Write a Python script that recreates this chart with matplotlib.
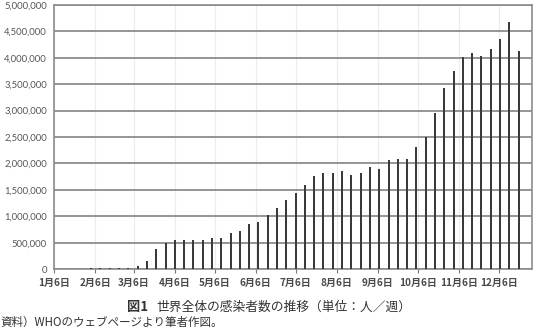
import numpy as np
import pandas as pd
import matplotlib
matplotlib.use("Agg")
import matplotlib.pyplot as plt
from matplotlib.ticker import FuncFormatter, MultipleLocator

plt.rcParams['font.family'] = ['Noto Sans CJK JP', 'DejaVu Sans']

# weekly new cases
week_start = "2020-01-13"
cases = [10000, 10000, 10000, 25000, 30000, 15000, 15000, 25000, 60000,
         150000, 385000, 500000, 558000, 545000, 558000, 558000, 583000, 596000,
         686000, 724000, 846000, 891000, 1019000,
         1154000, 1314000, 1442000, 1583000, 1763000, 1827000, 1814000, 1859000,
         1788000, 1827000, 1942000, 1904000, 2064000, 2077000, 2090000,
         2320000, 2509000, 2963000, 3424000, 3751000, 4023000, 4098000, 4035000,
         4174000, 4363000, 4672000, 4123000]
weeks = pd.date_range(week_start, periods=len(cases), freq="7D")

month_ticks = pd.date_range("2020-01-06", periods=12, freq=pd.DateOffset(months=1))
month_labels = [f"{d.month}月6日" for d in month_ticks]

caption_head = "図1"
caption = "世界全体の感染者数の推移（単位：人／週）"
source = "資料）WHOのウェブページより筆者作図。"

fig = plt.figure(figsize=(5.4, 3.29), dpi=100)
ax = fig.add_axes([0.1, 0.182, 0.885, 0.803])

ax.bar(weeks, cases, width=1.5, color="#3a3a3a", zorder=3)

ax.set_ylim(0, 5000000)
ax.set_xlim(pd.Timestamp("2020-01-06"), pd.Timestamp("2020-12-31"))
ax.yaxis.set_major_locator(MultipleLocator(500000))
ax.yaxis.set_major_formatter(FuncFormatter(lambda v, p: f"{int(v):,}"))
ax.set_xticks(month_ticks)
ax.set_xticklabels(month_labels, fontsize=7.2, fontweight="bold", color="#4a4a4a")
ax.tick_params(axis="y", labelsize=6.8, labelcolor="#555555", length=0, pad=5)
for lab in ax.get_yticklabels():
    lab.set_family("Lato")
ax.tick_params(axis="x", length=3, color="#777777", pad=3)

ax.grid(axis="y", color="#8c8c8c", linewidth=1.3, zorder=1)
ax.grid(axis="x", color="#ececec", linewidth=0.8, zorder=0)
for s in ax.spines.values():
    s.set_color("#8c8c8c")
    s.set_linewidth(1.2)

fig.text(0.255, 0.067, caption_head, ha="center", va="center", fontsize=9.5,
         fontweight="bold", color="#333333")
fig.text(0.29, 0.067, caption, ha="left", va="center", fontsize=9.2, color="#333333")
fig.text(0.0, 0.0, source, ha="left", va="bottom", fontsize=8.3, color="#333333")

fig.savefig("out.png", dpi=100)
